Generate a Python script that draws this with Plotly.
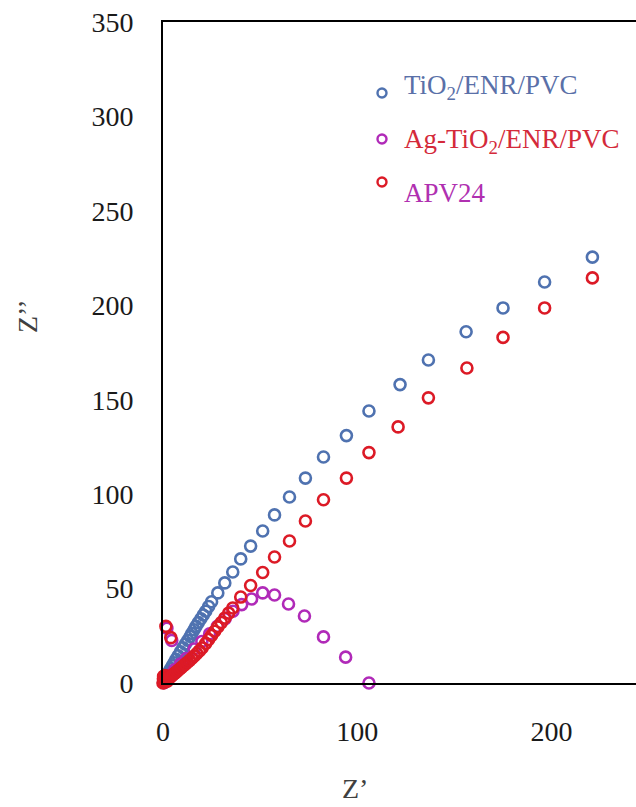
import plotly.graph_objects as go

# ---- data ----
tio2_x = [0.3, 0.5, 0.8, 1.1, 1.5, 2.0, 2.6, 3.2, 4.0, 4.8, 5.7, 6.7, 7.8, 9.0, 10.3, 11.5, 12.8,
          14.0, 14.9, 16.0, 17.0, 18.2, 19.5, 20.7, 22.0, 23.5, 25.0, 28.2, 31.8, 35.9, 40.0,
          45.1, 51.3, 57.4, 65.1, 73.3, 82.6, 94.4, 106.0, 122.0, 136.6, 156.0, 175.0, 196.4,
          221.0, 247.0]
tio2_y = [0.3, 0.7, 1.3, 2.0, 2.9, 3.9, 5.0, 6.2, 7.6, 9.1, 10.7, 12.5, 14.4, 16.5, 18.7, 20.6, 22.6,
          24.6, 26.3, 28.2, 30.0, 32.0, 34.0, 36.0, 38.0, 40.5, 43.0, 47.7, 53.0, 58.8, 65.7,
          72.5, 80.5, 89.0, 98.5, 108.5, 119.7, 131.0, 144.0, 158.0, 171.0, 186.0, 198.6, 212.3,
          225.5, 241.0]

agtio2_x = [2.0, 4.5, 0.5, 1.0, 1.5, 2.5, 4.0, 6.0, 9.0, 12.0, 16.0, 20.0, 24.0, 28.0, 32.0,
            36.0, 40.5, 45.6, 51.3, 57.4, 64.6, 72.8, 82.6, 94.0, 106.0]
agtio2_y = [29.0, 22.5, 0.2, 0.5, 1.0, 2.5, 4.5, 7.0, 10.0, 13.0, 18.0, 22.0, 26.0, 30.0, 34.0,
            38.0, 41.5, 44.5, 47.7, 46.6, 41.8, 35.5, 24.4, 13.7, 0.0]

apv_x = [1.5, 4.0, 0.0, 0.4, 0.2, 0.7, 1.0, 0.6, 1.4, 1.8, 2.2, 2.6, 0.3, 1.2, 3.0, 3.5, 4.1,
         4.7, 5.4, 6.1, 6.9, 7.7, 8.6, 9.5, 10.5, 11.5, 12.6, 13.7, 14.9, 16.1, 17.4, 18.7,
         20.1, 22.0, 23.5, 25.0, 26.6, 28.2, 30.0, 31.8, 33.8, 35.9, 40.0, 45.1, 51.3, 57.4,
         65.1, 73.3, 82.6, 94.4, 106.0, 121.0, 136.6, 156.4, 175.0, 196.4, 221.0, 247.0]
apv_y = [30.0, 24.0, 0.0, 0.8, 2.2, 1.6, 3.0, 0.3, 1.2, 2.4, 1.0, 2.0, 3.6, 4.0, 2.6, 3.0, 3.5,
         4.0, 4.6, 5.2, 5.9, 6.6, 7.4, 8.2, 9.1, 10.0, 11.0, 12.0, 13.1, 14.3, 15.6, 17.0,
         18.5, 21.0, 23.0, 25.2, 27.4, 29.7, 32.0, 34.4, 37.0, 39.7, 45.5, 51.6, 58.5, 66.7,
         75.2, 85.8, 97.0, 108.5, 122.0, 135.6, 151.0, 166.8, 183.0, 198.6, 214.5, 227.0]

x_ticks = [0, 100, 200]
y_ticks = [0, 50, 100, 150, 200, 250, 300, 350]

legend_names = ["TiO<sub>2</sub>/ENR/PVC", "Ag-TiO<sub>2</sub>/ENR/PVC", "APV24"]
marker_colors = ["#4f72b0", "#b02ab8", "#dc1a26"]
legend_text_colors = ["#5a70a8", "#d42a3a", "#b030b0"]

FONT = "Liberation Serif"
W, H = 636, 807
L, T, B = 163, 22, 683
PW, PH = W - L, B - T


def pxx(px):
    return (px - L) / PW


def pxy(py):
    return (B - py) / PH


fig = go.Figure()
series = [(tio2_x, tio2_y, marker_colors[0]),
          (agtio2_x, agtio2_y, marker_colors[1]),
          (apv_x, apv_y, marker_colors[2])]
for (xs, ys, c), nm in zip(series, ["TiO2/ENR/PVC", "Ag-TiO2/ENR/PVC", "APV24"]):
    fig.add_trace(go.Scatter(
        x=xs, y=ys, mode="markers", name=nm, cliponaxis=False,
        marker=dict(symbol="circle-open", size=11, color=c, line=dict(width=2.6, color=c)),
        showlegend=False))

# custom legend (marker rows and text rows are offset as in the reference)
marker_rows = [93, 139, 182]
text_rows = [87, 141, 193]
shapes = []
annotations = []
for i in range(3):
    shapes.append(dict(type="circle", xref="paper", yref="paper",
                       xsizemode="pixel", ysizemode="pixel",
                       xanchor=pxx(382), yanchor=pxy(marker_rows[i]),
                       x0=-4.5, x1=4.5, y0=-4.5, y1=4.5,
                       line=dict(color=marker_colors[i], width=2.4)))
    annotations.append(dict(xref="paper", yref="paper", x=pxx(402), y=pxy(text_rows[i]),
                            xanchor="left", yanchor="middle", showarrow=False,
                            text=legend_names[i],
                            font=dict(family=FONT, size=27, color=legend_text_colors[i])))

annotations.append(dict(xref="paper", yref="paper", x=pxx(27), y=pxy(316),
                        xanchor="center", yanchor="middle", showarrow=False,
                        text="Z’’", textangle=-90,
                        font=dict(family=FONT, size=28, color="#404040")))
annotations.append(dict(xref="paper", yref="paper", x=pxx(355), y=pxy(806),
                        xanchor="center", yanchor="bottom", showarrow=False,
                        text="Z’",
                        font=dict(family=FONT, size=28, color="#404040")))

fig.update_layout(
    width=W, height=H,
    margin=dict(l=L, r=0, t=T, b=H - B, pad=0),
    paper_bgcolor="white", plot_bgcolor="white",
    shapes=shapes, annotations=annotations,
    font=dict(family=FONT, size=28, color="#1a1a1a"),
    xaxis=dict(range=[0, PW / 1.943], tickvals=x_ticks, showgrid=False, zeroline=False,
               showline=True, linecolor="black", linewidth=2, mirror=True,
               ticks="", ticklabelstandoff=22, tickfont=dict(family=FONT, size=28, color="#1a1a1a")),
    yaxis=dict(range=[0, 350], tickvals=y_ticks, showgrid=False, zeroline=False,
               showline=True, linecolor="black", linewidth=2, mirror=False,
               ticks="", ticklabelstandoff=22, tickfont=dict(family=FONT, size=28, color="#1a1a1a")),
)

fig.write_html("out.html")
